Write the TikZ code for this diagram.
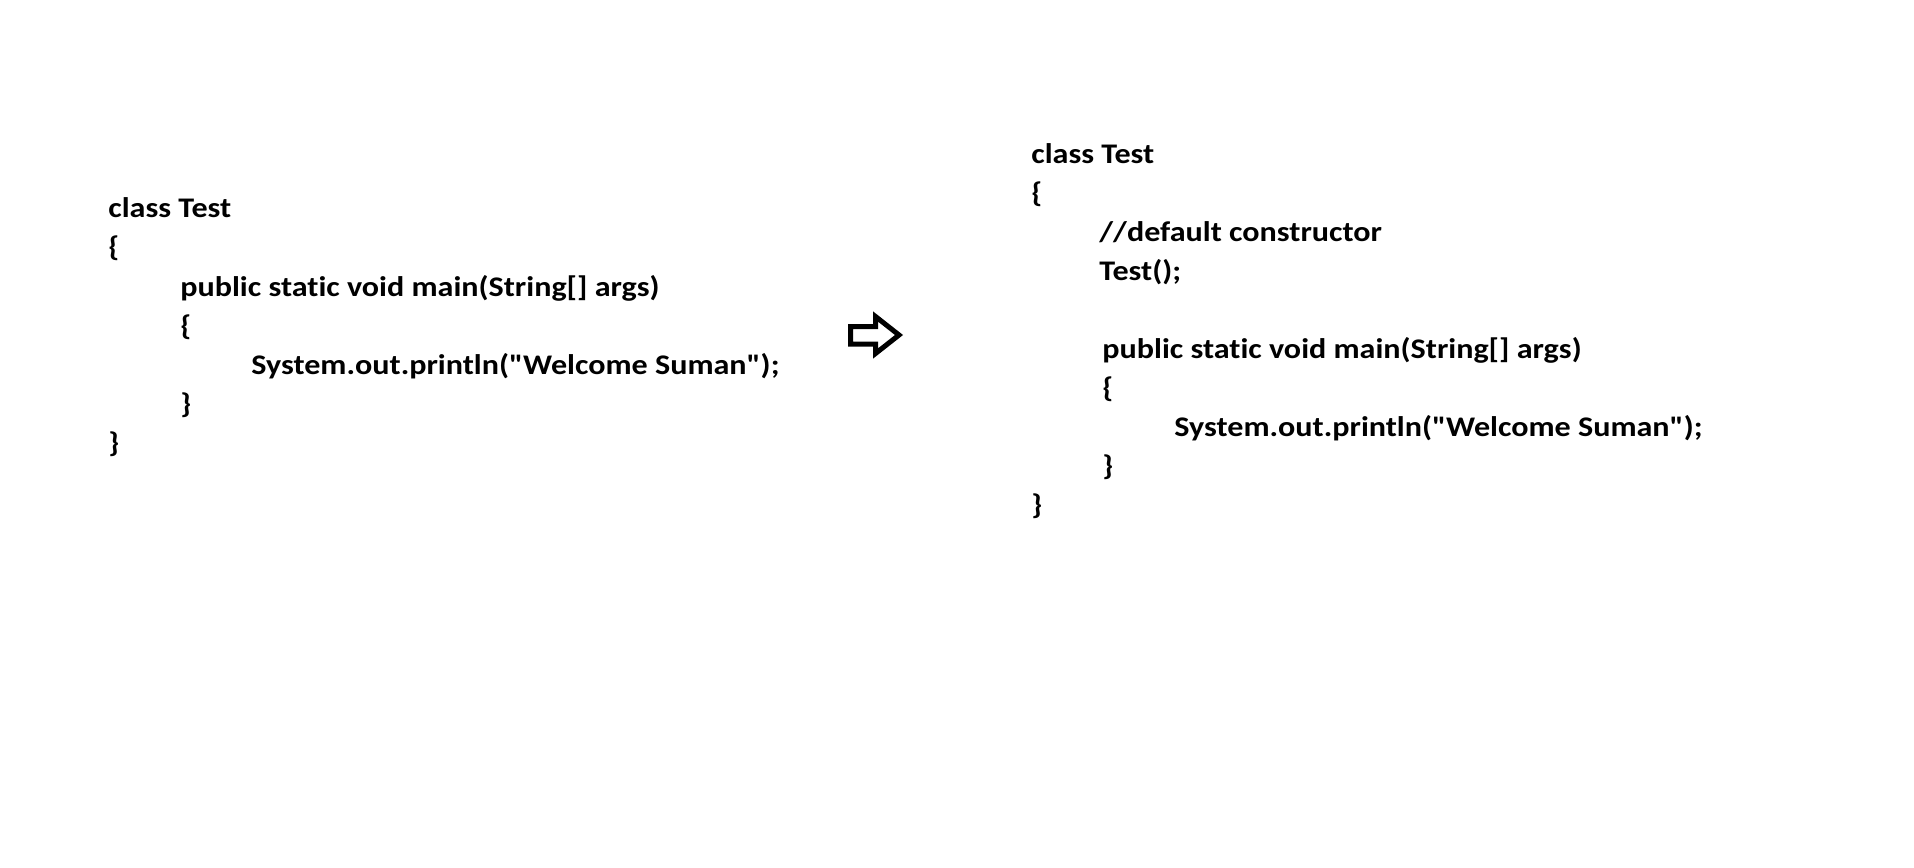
\documentclass[tikz,border=0pt]{standalone}
\usepackage{fontspec}
\newfontfamily\codefont{Carlito}[FakeStretch=1.13,Ligatures={TeXOff,CommonOff}]
\usepackage{tikz}

\begin{document}
\begin{tikzpicture}[x=0.5pt,y=-0.5pt]
\tikzstyle{every node}+=[inner sep=0pt]
\tikzstyle{code}=[anchor=base west,font=\codefont\fontsize{14.2pt}{17pt}\bfseries\selectfont]
\useasboundingbox (0,0) rectangle (1914,867);
% before
\node [code] (la) at (108,217.7) {class Test};
\node [code] (lb) at (108,256.9) {\{};
\node [code] (lc) at (180,296.1) {public static void main(String[] args)};
\node [code] (ld) at (180,335.3) {\{};
\node [code] (le) at (251,374.5) {System.out.println("Welcome Suman");};
\node [code] (lf) at (180,413.7) {\}};
\node [code] (lg) at (108,452.9) {\}};
% arrow
\draw [black,line width=2.5pt] (850.5,326.5) -- (875.5,326.5) -- (875.5,316.5) -- (899,335) -- (875.5,353.5) -- (875.5,344) -- (850.5,344) -- cycle;
% after
\node [code] (ra) at (1031,163) {class Test};
\node [code] (rb) at (1031,202.1) {\{};
\node [code] (rc) at (1099,241.2) {//default constructor};
\node [code] (rd) at (1099,280.3) {Test();};
\node [code] (re) at (1102,358.5) {public static void main(String[] args)};
\node [code] (rf) at (1102,397.6) {\{};
\node [code] (rg) at (1174,436.7) {System.out.println("Welcome Suman");};
\node [code] (rh) at (1102,475.8) {\}};
\node [code] (ri) at (1031,514.9) {\}};
\end{tikzpicture}
\end{document}
